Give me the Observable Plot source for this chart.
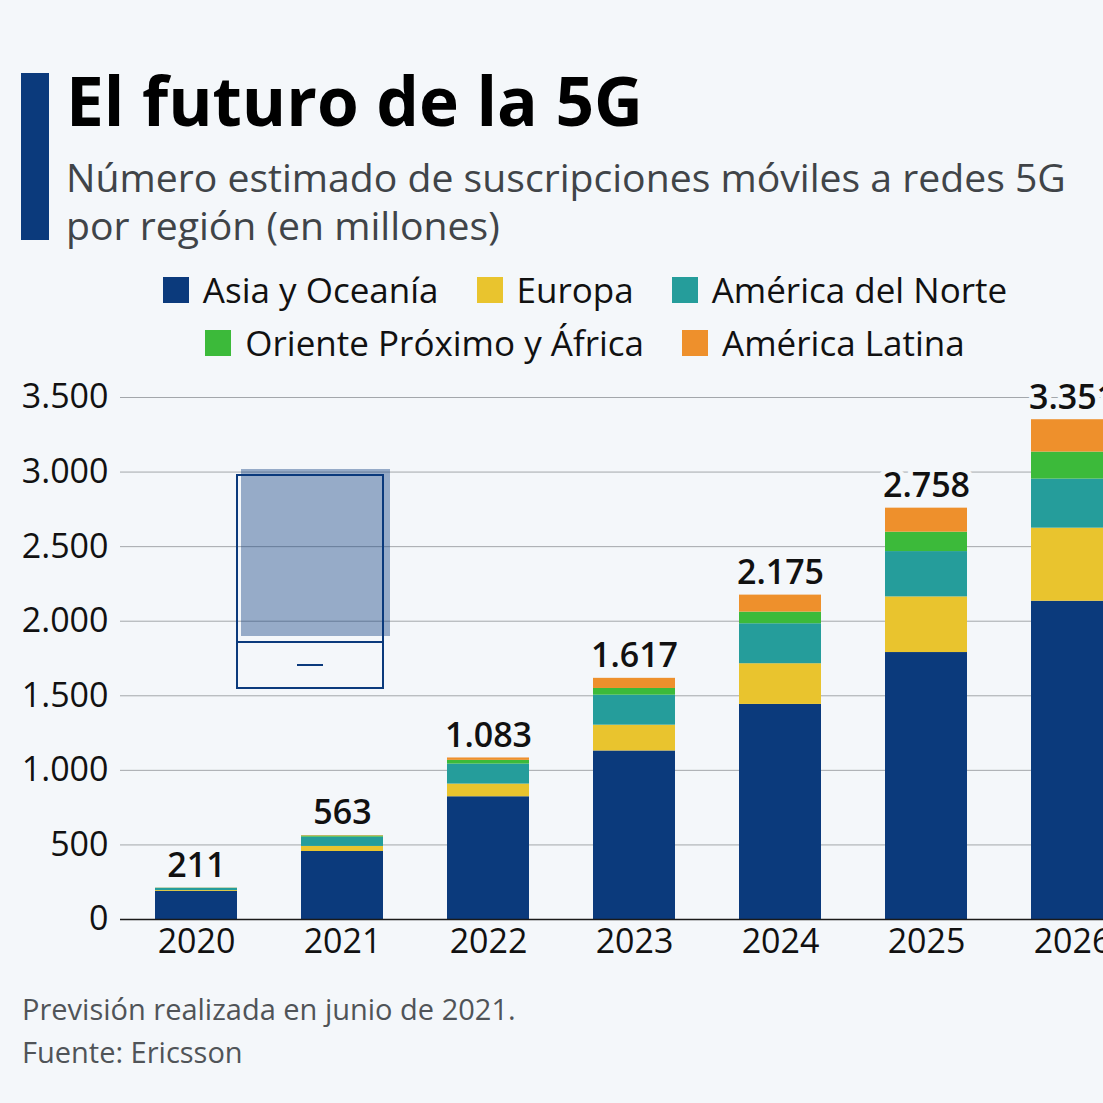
<!DOCTYPE html>
<html>
<head>
<meta charset="utf-8">
<script src="https://cdn.jsdelivr.net/npm/d3@7"></script>
<script src="https://cdn.jsdelivr.net/npm/@observablehq/plot@0.6"></script>
<style>
  html, body { margin: 0; padding: 0; }
  body { width: 1103px; height: 1103px; overflow: hidden; position: relative; background: #f4f7fa; font-family: "Open Sans", sans-serif; }
  .abs { position: absolute; }
  #bar { left: 21px; top: 73px; width: 28px; height: 167px; background: #0b3a7c; }
  #title { left: 66px; top: 68px; font-size: 64px; line-height: 64px; font-weight: 700; color: #000; white-space: nowrap; }
  #subtitle { left: 66px; top: 153px; font-size: 37px; line-height: 48px; color: #404448; white-space: nowrap; }
  #legend { left: 120px; top: 263px; width: 930px; }
  .lrow { display: flex; justify-content: center; align-items: center; height: 53px; }
  .litem { display: flex; align-items: center; margin: 0 19px; font-size: 35px; color: #111; white-space: nowrap; }
  .sw { width: 26px; height: 26px; margin-right: 14px; }
  #chart { left: 0; top: 360px; width: 1160px; }
  #chart svg { max-width: none !important; }
  #footer { left: 22px; top: 987px; font-size: 29px; line-height: 43px; color: #505458; white-space: nowrap; }
  .ov { position: absolute; box-sizing: border-box; }
</style>
</head>
<body>
<div id="bar" class="abs"></div>
<div id="title" class="abs">El futuro de la 5G</div>
<div id="subtitle" class="abs"><span id="sub1">Número estimado de suscripciones móviles a redes 5G</span><br>por región (en millones)</div>
<div id="legend" class="abs"></div>
<div id="chart" class="abs"></div>
<div id="footer" class="abs">Previsión realizada en junio de 2021.<br>Fuente: Ericsson</div>
<div class="ov" style="left:236px;top:474px;width:148px;height:215px;border:2px solid #0b3a7c;"></div>
<div class="ov" style="left:236px;top:641px;width:148px;height:2px;background:#0b3a7c;"></div>
<div class="ov" style="left:297px;top:664px;width:26px;height:2px;background:#0b3a7c;"></div>
<div class="ov" style="left:241px;top:469px;width:149px;height:167px;background:rgba(11,58,124,0.4);"></div>
<script>
const years = ["2020", "2021", "2022", "2023", "2024", "2025", "2026"];
const regions = ["Asia y Oceanía", "Europa", "América del Norte", "Oriente Próximo y África", "América Latina"];
const colors = ["#0b3a7c", "#e9c42e", "#259d9b", "#3cba3a", "#ee902c"];
const asia = [188, 456, 823, 1130, 1442, 1790, 2134];
const europa = [6, 34, 85, 173, 273, 373, 490];
const norte = [15, 62, 134, 201, 268, 304, 329];
const oriente = [1, 8, 25, 45, 78, 130, 181];
const latina = [1, 3, 16, 68, 114, 161, 217];
const totals = [211, 563, 1083, 1617, 2175, 2758, 3351];
const yTicks = [0, 500, 1000, 1500, 2000, 2500, 3000, 3500];
const legendRows = [[0, 1, 2], [3, 4]];

const series = [asia, europa, norte, oriente, latina];
const rows = [];
years.forEach((yr, i) => series.forEach((s, k) => rows.push({year: yr, region: regions[k], value: s[i]})));
const totalRows = years.map((yr, i) => ({year: yr, total: totals[i]}));

const es = d3.formatLocale({decimal: ",", thousands: ".", grouping: [3], currency: ["", " €"]});
const fmt = es.format(",d");

function fit(el, target) {
  const w = el.getBoundingClientRect().width;
  const fs = parseFloat(getComputedStyle(el).fontSize);
  return fs * target / w;
}
const t = document.getElementById("title");
t.style.fontSize = fit(t, 577).toFixed(2) + "px";
const s1 = document.getElementById("sub1");
document.getElementById("subtitle").style.fontSize = fit(s1, 1000).toFixed(2) + "px";

const lg = document.getElementById("legend");
legendRows.forEach(r => {
  const row = document.createElement("div");
  row.className = "lrow";
  r.forEach(k => {
    const it = document.createElement("div");
    it.className = "litem";
    it.innerHTML = `<div class="sw" style="background:${colors[k]}"></div><span>${regions[k]}</span>`;
    row.appendChild(it);
  });
  lg.appendChild(row);
});

const chart = Plot.plot({
  width: 1160,
  height: 619,
  marginLeft: 120,
  marginRight: 12,
  marginTop: 37,
  marginBottom: 60,
  style: {background: "transparent", fontFamily: "Open Sans", color: "#111", overflow: "visible", maxWidth: "none"},
  x: {domain: years, paddingInner: 0.44, paddingOuter: 0.225},
  y: {domain: [0, 3500]},
  color: {domain: regions, range: colors},
  marks: [
    Plot.gridY(yTicks.filter(d => d > 0), {stroke: "#a3a7ab", strokeOpacity: 1, strokeWidth: 1}),
    Plot.axisY(yTicks, {tickSize: 0, tickPadding: 12, tickFormat: fmt, fontSize: 34, label: null}),
    Plot.axisX({tickSize: 0, tickPadding: 9, fontSize: 34, label: null}),
    Plot.barY(rows, {x: "year", y: "value", fill: "region", order: regions}),
    Plot.ruleY([0], {stroke: "#1a1a1a", strokeWidth: 1.5}),
    Plot.text(totalRows, {x: "year", y: "total", text: d => fmt(d.total), dy: -22, fontSize: 34, fontWeight: 600, fill: "#111", stroke: "#f4f7fa", strokeWidth: 10, paintOrder: "stroke"})
  ]
});
document.getElementById("chart").appendChild(chart);
</script>
</body>
</html>
